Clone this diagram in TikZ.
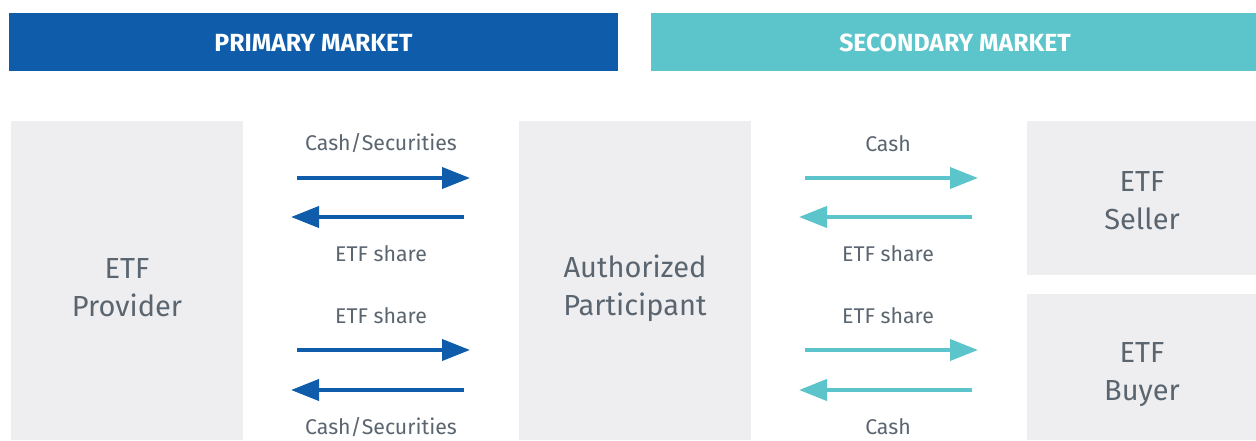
\documentclass[tikz,border=0pt]{standalone}
\usepackage{fontspec}
\setmainfont{Fira Sans}
\usetikzlibrary{arrows.meta}
\definecolor{pblue}{HTML}{0F5DAA}
\definecolor{steal}{HTML}{5CC5CB}
\definecolor{boxgray}{HTML}{EEEEF0}
\definecolor{txtgray}{HTML}{5A6570}
\tikzset{
  header/.style={inner sep=0pt, text=white, font=\fontsize{24.8}{28}\selectfont\bfseries},
  party/.style={fill=boxgray, draw=none, inner sep=0pt},
  partytext/.style={text=txtgray, align=center, font=\fontsize{29}{38}\selectfont},
  lbl/.style={text=txtgray, font=\fontsize{21.3}{24}\selectfont, inner sep=0pt},
  parr/.style={draw=pblue, line width=4pt, -{Triangle[length=28pt,width=21pt]}},
  sarr/.style={draw=steal, line width=4pt, -{Triangle[length=28pt,width=21pt]}},
}
\begin{document}
\begin{tikzpicture}[x=1pt,y=-1pt]
\useasboundingbox (0,0) rectangle (1256,440);
% headers
\fill[pblue] (9,13) rectangle (618,71);
\node[header] (ph) at (313.5,43) {PRIMARY MARKET};
\fill[steal] (651,13) rectangle (1256,71);
\node[header] (sh) at (955,43) {SECONDARY MARKET};
% boxes
\fill[boxgray] (11,121) rectangle (243,440);
\fill[boxgray] (519,121) rectangle (751,440);
\fill[boxgray] (1027,121) rectangle (1256,275);
\fill[boxgray] (1027,294) rectangle (1256,440);
\node[partytext] (prov) at (127,288) {ETF\\Provider};
\node[partytext] (ap) at (635,288) {Authorized\\Participant};
\node[partytext] (sell) at (1142,201) {ETF\\Seller};
\node[partytext] (buy) at (1142,375) {ETF\\Buyer};
% primary arrows
\coordinate (p1a) at (297,178); \coordinate (p1b) at (470,178);
\coordinate (p2a) at (464,217); \coordinate (p2b) at (291,217);
\coordinate (p3a) at (297,350); \coordinate (p3b) at (470,350);
\coordinate (p4a) at (464,390); \coordinate (p4b) at (291,390);
\draw[parr] (p1a) -- (p1b);
\draw[parr] (p2a) -- (p2b);
\draw[parr] (p3a) -- (p3b);
\draw[parr] (p4a) -- (p4b);
\node[lbl] (l1) at (381,143) {Cash/Securities};
\node[lbl] (l2) at (381,254) {ETF share};
\node[lbl] (l3) at (381,316) {ETF share};
\node[lbl] (l4) at (381,427) {Cash/Securities};
% secondary arrows
\coordinate (s1a) at (805,178); \coordinate (s1b) at (978,178);
\coordinate (s2a) at (972,217); \coordinate (s2b) at (799,217);
\coordinate (s3a) at (805,350); \coordinate (s3b) at (978,350);
\coordinate (s4a) at (972,390); \coordinate (s4b) at (799,390);
\draw[sarr] (s1a) -- (s1b);
\draw[sarr] (s2a) -- (s2b);
\draw[sarr] (s3a) -- (s3b);
\draw[sarr] (s4a) -- (s4b);
\node[lbl] (m1) at (888,144) {Cash};
\node[lbl] (m2) at (888,254) {ETF share};
\node[lbl] (m3) at (888,316) {ETF share};
\node[lbl] (m4) at (888,427) {Cash};
\end{tikzpicture}
\end{document}
